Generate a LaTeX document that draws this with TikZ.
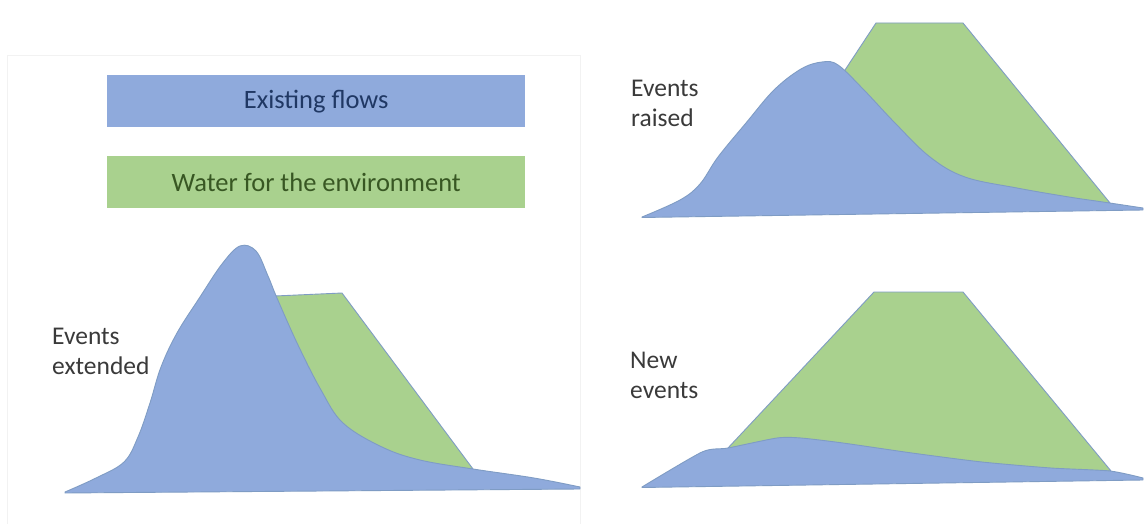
\documentclass[tikz,border=0pt]{standalone}
\usepackage{fontspec}
\setmainfont{Carlito}
\definecolor{flowblue}{HTML}{8FAADC}
\definecolor{envgreen}{HTML}{A9D18E}
\definecolor{edgeline}{HTML}{7F9CC4}
\definecolor{navytext}{HTML}{203864}
\definecolor{greentext}{HTML}{385723}
\definecolor{labeltext}{HTML}{3A3A3A}
\tikzset{
  legendbox/.style={inner sep=0pt, minimum width=418pt, minimum height=52pt, anchor=north west,
    font=\fontsize{26.5}{31}\selectfont},
  flow/.style={fill=flowblue, draw=edgeline, line width=0.9pt, line join=round},
  envflow/.style={fill=envgreen, draw=edgeline, line width=0.9pt, line join=round},
  eventlabel/.style={inner sep=0pt, anchor=west, align=left, text=labeltext,
    font=\fontsize{25.5}{30}\selectfont},
  hump/.style={smooth, tension=0.6}
}
\begin{document}
\begin{tikzpicture}[x=1pt, y=-1pt]
\useasboundingbox (0,0) rectangle (1144,524);
\fill[white] (0,0) rectangle (1144,524);

% faint frame of the left panel
\draw[black!5, line width=0.8pt] (7,530) -- (7,55) -- (580,55) -- (580,530);

% legend
\node[legendbox, fill=flowblue, text=navytext] (legflow) at (107,75) {Existing flows};
\node[legendbox, fill=envgreen, text=greentext] (legenv) at (107,156) {Water for the environment};

% ---- events extended ----
\path[envflow] (275,296) -- (342,293) -- (473,469) -- (300,480) -- (268,330) -- cycle;
\path[flow] plot[hump] coordinates {(65,492) (96,478) (124,462) (138,437) (150,403) (161,367)
  (177,333) (200,297) (222,264) (240,246) (256,251) (268,276) (277,298) (298,345) (321,390)
  (343,423) (382,447) (420,460) (473,469) (534,478) (580,487)}
  -- (580,489) -- (65,493) -- cycle;
\node[eventlabel] (lblext) at (52,351) {Events\\extended};

% ---- events raised ----
\path[envflow] (845,70) -- (876,23) -- (963,23) -- (1110,203) -- (1000,205) -- (850,150) -- cycle;
\path[flow] plot[hump] coordinates {(642,217) (680,200) (700,184) (718,157) (746,123) (774,90)
  (801,69) (822,62) (838,65) (864,90) (895,123) (930,157) (965,177) (1017,188) (1069,197)
  (1103,202) (1143,208)}
  -- (1143,210) -- (642,217.5) -- cycle;
\node[eventlabel] (lblraised) at (631,103) {Events\\raised};

% ---- new events ----
\path[envflow] (728,448) -- (874,292) -- (963,292) -- (1111,471) -- (1000,475) -- (740,470) -- cycle;
\path[flow] plot[smooth, tension=0.4] coordinates {(642,487) (702,452) (728,448) (777,438)
  (801,438) (843,443) (912,453) (982,462) (1051,468) (1110,471) (1143,478)}
  -- (1143,480) -- (642,487.5) -- cycle;
\node[eventlabel] (lblnew) at (630,375) {New\\events};
\end{tikzpicture}
\end{document}
